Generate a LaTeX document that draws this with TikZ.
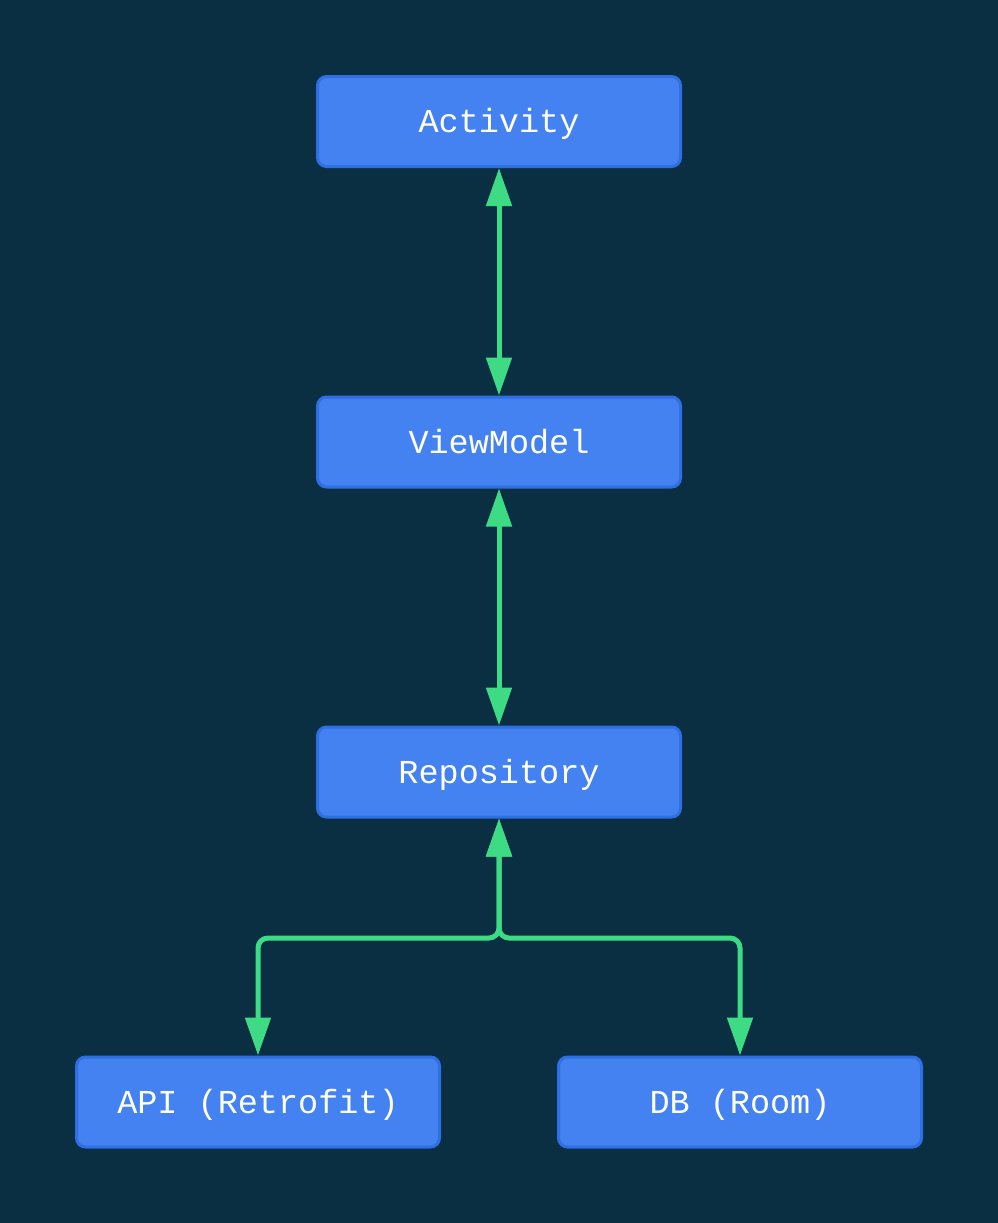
\documentclass[tikz,border=0pt]{standalone}
\usepackage{fontspec}
\setmonofont{Liberation Mono}
\usetikzlibrary{arrows.meta}
\definecolor{bg}{HTML}{0A2E42}
\definecolor{boxfill}{HTML}{4482F2}
\definecolor{boxline}{HTML}{2F6FE4}
\definecolor{arrgreen}{HTML}{3DDC84}
\begin{document}
\begin{tikzpicture}[x=1pt,y=-1pt,
  comp/.style={draw=boxline, fill=boxfill, line width=3pt, rounded corners=9pt,
    minimum width=363pt, minimum height=90pt, inner sep=0pt,
    text height=22pt, text depth=0pt,
    text=white, font=\ttfamily\fontsize{33.5}{40}\selectfont},
  link/.style={draw=arrgreen, line width=5pt, rounded corners=10pt,
    {Triangle[length=38pt,width=25pt]}-{Triangle[length=38pt,width=25pt]}}]
\useasboundingbox[fill=bg] (0,0) rectangle (998,1223);
\node[comp] (act) at (499,121.5) {Activity};
\node[comp] (vm) at (499,442) {ViewModel};
\node[comp] (repo) at (499,772) {Repository};
\node[comp] (api) at (258,1102) {API (Retrofit)};
\node[comp] (db) at (740,1102) {DB (Room)};
\coordinate (j) at (499,938);
\draw[link] (act.south) -- (vm.north);
\draw[link] (vm.south) -- (repo.north);
\draw[link] (repo.south) -- (j) -- (api.north |- j) -- (api.north);
\draw[link] (repo.south) -- (j) -- (db.north |- j) -- (db.north);
\end{tikzpicture}
\end{document}
